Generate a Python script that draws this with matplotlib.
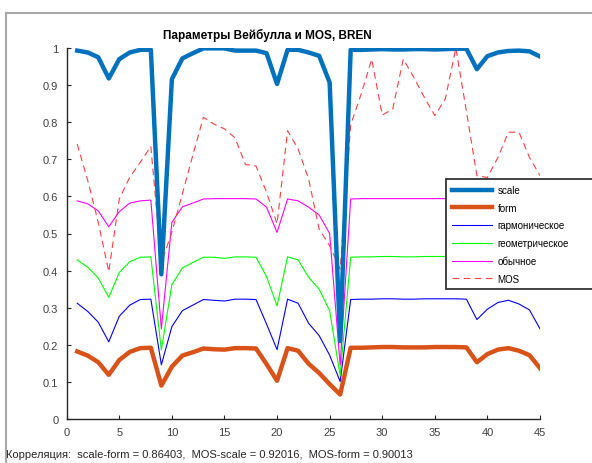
import numpy as np
import matplotlib
matplotlib.use('Agg')
import matplotlib.pyplot as plt
from matplotlib.patches import Rectangle
from matplotlib.ticker import FuncFormatter

plt.rcParams['font.family'] = ['Liberation Sans', 'DejaVu Sans']

# DATA ------------------------------------------------------------------------
days = np.arange(1, 46)

scale = [0.993, 0.988, 0.975, 0.918, 0.970, 0.988, 0.995, 0.995, 0.390, 0.916,
         0.972, 0.986, 0.999, 0.999, 0.999, 0.993, 0.993, 0.993, 0.986, 0.903,
         0.995, 0.995, 0.988, 0.979, 0.907, 0.210, 0.995, 0.995, 0.996, 0.997,
         0.996, 0.996, 0.997, 0.997, 0.996, 0.997, 0.998, 0.998, 0.943, 0.978,
         0.988, 0.992, 0.993, 0.991, 0.977]

form = [0.182, 0.171, 0.153, 0.119, 0.159, 0.181, 0.191, 0.192, 0.090, 0.141,
        0.171, 0.180, 0.190, 0.188, 0.187, 0.191, 0.191, 0.190, 0.148, 0.103,
        0.191, 0.184, 0.149, 0.124, 0.094, 0.066, 0.192, 0.192, 0.193, 0.194,
        0.194, 0.193, 0.193, 0.193, 0.194, 0.194, 0.194, 0.193, 0.153, 0.175,
        0.187, 0.191, 0.184, 0.172, 0.137]

harmonic = [0.312, 0.290, 0.261, 0.208, 0.277, 0.307, 0.322, 0.323, 0.146, 0.249,
            0.292, 0.307, 0.322, 0.320, 0.318, 0.323, 0.323, 0.322, 0.256, 0.187,
            0.323, 0.312, 0.258, 0.225, 0.172, 0.101, 0.322, 0.323, 0.323, 0.324,
            0.324, 0.323, 0.323, 0.324, 0.324, 0.324, 0.324, 0.323, 0.268, 0.296,
            0.314, 0.320, 0.310, 0.294, 0.243]

geometric = [0.429, 0.409, 0.380, 0.328, 0.395, 0.424, 0.436, 0.437, 0.186, 0.362,
             0.407, 0.422, 0.436, 0.436, 0.433, 0.437, 0.437, 0.436, 0.384, 0.305,
             0.437, 0.429, 0.382, 0.350, 0.292, 0.117, 0.436, 0.437, 0.437, 0.438,
             0.438, 0.437, 0.437, 0.438, 0.438, 0.438, 0.438, 0.437, 0.385, 0.415,
             0.430, 0.435, 0.427, 0.414, 0.365]

ordinary = [0.588, 0.580, 0.561, 0.518, 0.559, 0.582, 0.588, 0.590, 0.243, 0.530,
            0.572, 0.582, 0.593, 0.594, 0.594, 0.594, 0.594, 0.593, 0.571, 0.503,
            0.593, 0.588, 0.571, 0.550, 0.500, 0.145, 0.593, 0.594, 0.594, 0.594,
            0.594, 0.594, 0.594, 0.594, 0.594, 0.594, 0.594, 0.594, 0.550, 0.575,
            0.587, 0.591, 0.585, 0.576, 0.535]

mos = [0.741, 0.643, 0.530, 0.397, 0.593, 0.652, 0.692, 0.735, 0.420, 0.504,
       0.607, 0.712, 0.813, 0.795, 0.782, 0.758, 0.686, 0.682, 0.611, 0.526,
       0.777, 0.728, 0.647, 0.512, 0.467, 0.404, 0.793, 0.876, 0.970, 0.819,
       0.836, 0.970, 0.921, 0.867, 0.818, 0.863, 1.000, 0.830, 0.656, 0.651,
       0.705, 0.773, 0.773, 0.705, 0.656]

labels = ['scale', 'form', 'гармоническое', 'геометрическое', 'обычное', 'MOS']
title = 'Параметры Вейбулла и MOS, BREN'
corr_text = 'Корреляция:  scale-form = 0.86403,  MOS-scale = 0.92016,  MOS-form = 0.90013'
# END DATA --------------------------------------------------------------------

W, H = 592, 464
fig = plt.figure(figsize=(W / 100, H / 100), dpi=100)
ax = fig.add_axes([66.7 / W, 1 - 420 / H, (540 - 66.7) / W, (420 - 49) / H])

ax.plot(days, scale, color='#0072BD', lw=3.2, label=labels[0], zorder=3)
ax.plot(days, form, color='#D95319', lw=3.2, label=labels[1], zorder=3)
ax.plot(days, harmonic, color='#0000FF', lw=0.8, label=labels[2], zorder=2)
ax.plot(days, geometric, color='#00FF00', lw=0.8, label=labels[3], zorder=2)
ax.plot(days, ordinary, color='#FF00FF', lw=0.8, label=labels[4], zorder=2)
ax.plot(days, mos, color='#FF4040', lw=0.8, ls=(0, (6, 4)), label=labels[5], zorder=2)

ax.set_xlim(0, 45)
ax.set_ylim(0, 1)
ax.set_xticks(np.arange(0, 46, 5))
ax.set_yticks(np.arange(0, 1.01, 0.1))
ax.yaxis.set_major_formatter(FuncFormatter(lambda v, p: '%g' % round(v, 1)))
for s in ['top', 'right']:
    ax.spines[s].set_visible(False)
for s in ['left', 'bottom']:
    ax.spines[s].set_color('#262626')
    ax.spines[s].set_linewidth(1.0)
ax.tick_params(direction='in', length=3, width=0.8, colors='#262626',
               labelsize=8, labelcolor='#404040', pad=6)

fig.text(267 / W, 1 - 35 / H, title, ha='center', va='center',
         fontsize=8.5, fontweight='bold')
fig.text(6 / W, 1 - 455 / H, corr_text, ha='left', va='center',
         fontsize=8, color='#262626')

# grey frame at the left / top edge
fig.add_artist(plt.Line2D([6 / W, 6 / W], [0, 1 - 14 / H], transform=fig.transFigure,
                          color='#a8a8a8', lw=1.5))
fig.add_artist(plt.Line2D([6 / W, 1], [1 - 14 / H, 1 - 14 / H], transform=fig.transFigure,
                          color='#a8a8a8', lw=1.5))

# legend box running off the right edge
box = Rectangle((445.7 / W, 1 - 290 / H), (620 - 445.7) / W, (290 - 180) / H,
                transform=fig.transFigure, facecolor='white', edgecolor='#333333',
                lw=1.3, zorder=4)
fig.add_artist(box)
handles, labs = ax.get_legend_handles_labels()
leg = fig.legend(handles, labs, loc='upper left', bbox_to_anchor=(449 / W, 1 - 183 / H),
                 frameon=False, fontsize=7, handlelength=4.1, handletextpad=0.6,
                 labelspacing=0.8, borderaxespad=0, borderpad=0.3)
leg.set_zorder(5)

fig.savefig('out.png', dpi=100)
